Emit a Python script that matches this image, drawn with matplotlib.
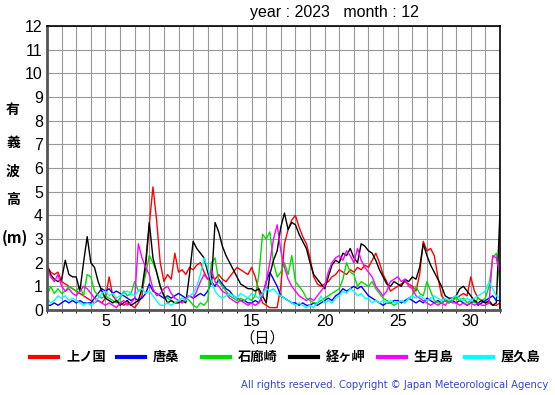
import numpy as np
import matplotlib
matplotlib.use("Agg")
import matplotlib.pyplot as plt
from matplotlib.lines import Line2D

# significant wave height (m), every 6 hours, Dec 1 00h .. Dec 32 00h
days = np.arange(1, 32.01, 0.25)

kaminokuni = [1.9, 1.6, 1.5, 1.6, 1.2, 1.1, 1.0, 0.9, 0.8, 0.7, 0.6, 0.5,
              0.4, 0.3, 0.4, 0.3, 0.5, 1.4, 0.6, 0.4, 0.3, 0.2, 0.3, 0.2,
              0.1, 0.3, 0.6, 1.8, 3.6, 5.2, 3.8, 2.0, 1.2, 1.5, 1.3, 2.4,
              1.6, 1.7, 1.5, 1.8, 1.7, 1.9, 2.0, 1.6, 1.3, 1.4, 1.3, 1.5,
              1.3, 1.2, 1.4, 1.6, 1.8, 1.7, 1.6, 1.5, 1.8, 1.4, 0.8, 0.3,
              0.2, 0.1, 0.1, 0.1, 1.0, 2.8, 3.4, 3.8, 4.0, 3.5, 3.1, 2.8,
              2.2, 1.4, 1.1, 1.0, 1.1, 1.2, 1.4, 1.5, 1.7, 1.6, 1.5, 1.7,
              1.6, 1.8, 1.7, 1.9, 1.8, 2.1, 2.4, 2.0, 1.5, 1.2, 0.8, 0.9,
              1.0, 1.1, 1.2, 1.1, 1.0, 0.8, 1.5, 2.9, 2.5, 2.6, 2.3, 1.4,
              0.6, 0.4, 0.4, 0.5, 0.5, 0.6, 0.7, 0.6, 1.4, 0.8, 0.5, 0.4,
              0.3, 0.3, 0.2, 0.2, 0.3]
karakuwa = [0.2, 0.2, 0.3, 0.2, 0.3, 0.4, 0.3, 0.4, 0.3, 0.4, 0.3, 0.3,
            0.3, 0.5, 0.7, 0.9, 0.8, 0.9, 0.7, 0.8, 0.7, 0.6, 0.5, 0.4,
            0.5, 0.4, 0.5, 0.7, 1.1, 0.8, 0.7, 0.6, 0.5, 0.6, 0.5, 0.6,
            0.7, 0.6, 0.5, 0.6, 0.5, 0.6, 0.7, 0.6, 0.8, 1.2, 1.0, 1.3,
            1.1, 0.9, 0.8, 0.6, 0.5, 0.4, 0.4, 0.3, 0.3, 0.4, 0.3, 0.6,
            1.2, 1.6, 1.3, 1.0, 0.6, 0.5, 0.4, 0.3, 0.3, 0.2, 0.3, 0.2,
            0.2, 0.3, 0.2, 0.3, 0.4, 0.5, 0.4, 0.6, 0.7, 0.9, 0.8, 0.9,
            1.0, 0.9, 1.0, 0.8, 0.6, 0.5, 0.4, 0.3, 0.2, 0.3, 0.3, 0.4,
            0.4, 0.3, 0.4, 0.5, 0.4, 0.3, 0.4, 0.3, 0.5, 0.4, 0.3, 0.4,
            0.3, 0.4, 0.3, 0.4, 0.3, 0.4, 0.3, 0.2, 0.3, 0.4, 0.2, 0.3,
            0.4, 0.5, 0.6, 0.4, 0.4]
irozaki = [0.6, 1.0, 0.7, 0.9, 0.7, 0.8, 1.0, 0.9, 0.8, 1.0, 0.6, 1.5,
           1.4, 0.8, 0.6, 0.5, 0.6, 0.5, 0.4, 0.3, 0.5, 0.8, 0.6, 0.7,
           1.2, 0.8, 0.9, 1.5, 2.3, 2.0, 1.6, 1.0, 0.6, 0.5, 0.4, 0.3,
           0.4, 0.3, 0.5, 0.4, 0.2, 0.1, 0.3, 0.2, 0.4, 2.0, 2.2, 1.2,
           1.0, 0.8, 0.6, 0.5, 0.4, 0.5, 0.4, 0.5, 0.4, 0.6, 1.5, 3.2,
           3.0, 3.3, 2.0, 1.4, 1.6, 2.0, 1.5, 2.3, 1.2, 1.0, 0.8, 0.5,
           0.4, 0.3, 0.3, 0.4, 0.5, 0.6, 0.7, 0.8, 0.9, 1.3, 2.0, 1.6,
           1.5, 1.0, 1.2, 1.1, 1.0, 1.2, 0.9, 0.7, 0.5, 0.4, 0.3, 0.2,
           0.3, 0.4, 0.3, 0.5, 0.6, 1.0, 0.7, 0.6, 1.2, 0.8, 0.4, 0.3,
           0.3, 0.4, 0.3, 0.4, 0.5, 0.4, 0.5, 0.3, 0.4, 0.3, 0.5, 0.4,
           0.5, 1.0, 2.2, 2.4, 1.0]
kyogamisaki = [1.9, 1.5, 1.3, 1.2, 1.3, 2.1, 1.5, 1.4, 1.4, 0.8, 2.0, 3.1,
               2.0, 1.8, 1.2, 0.8, 0.5, 0.4, 0.3, 0.4, 0.2, 0.3, 0.4, 0.2,
               0.3, 0.4, 0.9, 2.0, 3.7, 2.2, 1.6, 1.0, 0.6, 0.3, 0.4, 0.3,
               0.3, 0.4, 0.3, 1.5, 2.9, 2.6, 2.4, 2.2, 1.6, 1.1, 3.7, 3.3,
               2.7, 2.3, 2.0, 1.7, 1.4, 1.1, 1.0, 0.9, 0.9, 0.8, 0.9, 0.6,
               0.3, 1.5, 2.1, 2.5, 3.5, 4.1, 3.4, 3.7, 3.6, 3.2, 2.9, 2.6,
               2.0, 1.5, 1.3, 1.1, 0.9, 1.4, 1.9, 2.1, 2.0, 2.4, 2.3, 2.6,
               2.2, 2.0, 2.8, 2.7, 2.5, 2.4, 2.1, 1.7, 1.4, 1.1, 1.0, 1.2,
               1.1, 1.0, 1.3, 1.2, 1.4, 1.3, 1.8, 2.8, 2.3, 1.9, 1.6, 1.3,
               1.0, 0.6, 0.5, 0.5, 0.6, 0.9, 1.0, 0.8, 0.6, 0.4, 0.3, 0.4,
               0.3, 0.4, 0.2, 0.3, 4.2]
ikitsuki = [1.8, 1.4, 1.2, 1.5, 1.0, 0.8, 0.9, 0.7, 0.6, 0.8, 1.0, 0.9,
            0.7, 0.5, 0.4, 0.3, 0.2, 0.3, 0.2, 0.1, 0.3, 0.4, 0.2, 0.3,
            0.5, 2.8, 2.2, 1.8, 1.5, 0.9, 0.6, 0.7, 0.9, 1.0, 0.7, 0.5,
            0.4, 0.3, 0.5, 0.6, 0.5, 0.8, 1.2, 1.5, 1.3, 1.7, 1.2, 1.0,
            0.8, 0.7, 0.5, 0.4, 0.3, 0.4, 0.3, 0.2, 0.3, 0.2, 0.3, 0.6,
            1.2, 2.0, 3.0, 3.6, 2.5, 1.8, 1.3, 1.0, 0.8, 0.6, 0.5, 0.4,
            0.5, 0.4, 0.6, 0.8, 1.0, 1.6, 2.0, 2.2, 2.3, 2.1, 2.5, 2.3,
            2.0, 2.6, 2.1, 1.8, 1.6, 1.4, 1.0, 0.8, 0.6, 0.8, 1.2, 1.3,
            1.4, 1.2, 1.3, 1.0, 0.9, 0.6, 0.5, 0.4, 0.3, 0.2, 0.3, 0.2,
            0.3, 0.2, 0.4, 0.3, 0.3, 0.2, 0.3, 0.2, 0.3, 0.2, 0.3, 0.2,
            0.2, 0.3, 2.3, 2.2, 1.5]
yakushima = [0.5, 0.3, 0.4, 0.6, 0.5, 0.6, 0.4, 0.5, 0.4, 0.3, 0.2, 0.3,
             0.2, 0.3, 0.5, 0.7, 0.8, 0.6, 0.7, 0.5, 0.6, 0.7, 0.8, 0.7,
             0.6, 0.8, 0.9, 0.7, 0.8, 0.6, 0.4, 0.2, 0.2, 0.3, 0.2, 0.3,
             0.4, 0.5, 0.4, 0.6, 0.7, 1.0, 1.5, 2.2, 1.8, 1.2, 0.8, 0.6,
             0.5, 0.6, 0.7, 0.6, 0.5, 0.7, 0.6, 0.5, 0.7, 0.6, 0.5, 0.7,
             0.9, 0.8, 0.9, 0.7, 0.6, 0.5, 0.4, 0.3, 0.2, 0.3, 0.2, 0.1,
             0.2, 0.1, 0.3, 0.6, 0.3, 0.4, 0.3, 0.5, 0.6, 0.8, 0.7, 0.9,
             0.8, 0.6, 0.7, 0.5, 0.5, 0.3, 0.4, 0.3, 0.4, 0.3, 0.4, 0.3,
             0.3, 0.4, 0.3, 0.5, 0.6, 0.5, 0.6, 0.5, 0.4, 0.5, 0.6, 0.5,
             0.4, 0.5, 0.4, 0.5, 0.6, 0.5, 0.4, 0.5, 0.4, 0.5, 0.6, 0.7,
             0.8, 1.2, 0.9, 0.6, 0.5]

stations = ["上ノ国", "唐桑", "石廊崎", "経ヶ岬", "生月島", "屋久島"]
series = [kaminokuni, karakuwa, irozaki, kyogamisaki, ikitsuki, yakushima]
colors = ["#ff0000", "#0000ff", "#00dd00", "#000000", "#ff00ff", "#00ffff"]

xticks = [5, 10, 15, 20, 25, 30]

jp = ["Noto Sans CJK JP", "DejaVu Sans"]
num = ["Liberation Sans", "DejaVu Sans"]

fig = plt.figure(figsize=(5.55, 3.95), dpi=100)
ax = fig.add_axes([47 / 555, 1 - 310 / 395, 453 / 555, 284 / 395])

for vals, c in zip(series, colors):
    ax.plot(days, vals, color=c, lw=1.0)

ax.set_xlim(1, 32)
ax.set_ylim(0, 12)
ax.set_xticks(np.arange(1, 33), minor=True)
ax.set_xticks(xticks)
ax.set_yticks(np.arange(0, 13))
ax.grid(True, which="both", color="#999999", lw=0.8)
ax.set_axisbelow(True)
ax.tick_params(length=0, labelsize=11.5, pad=3)
for lab in ax.get_xticklabels() + ax.get_yticklabels():
    lab.set_family(num)
for s in ["left", "bottom"]:
    ax.spines[s].set_linewidth(2)
    ax.spines[s].set_color("#555555")
for s in ["top", "right"]:
    ax.spines[s].set_linewidth(1.2)

fig.text(250 / 555, 1 - 13 / 395, "year : 2023   month : 12", family=num,
         fontsize=11.5, ha="left", va="center")

for ch, y in zip(["有", "義", "波", "高"], [110, 143, 172, 200]):
    fig.text(13 / 555, 1 - y / 395, ch, family=jp, fontsize=10,
             fontweight="bold", ha="center", va="center")
fig.text(2 / 555, 1 - 238 / 395, "(m)", family=jp, fontsize=11,
         fontweight="bold", ha="left", va="center")
fig.text(262 / 555, 1 - 338 / 395, "（日）", family=jp, fontsize=11,
         ha="center", va="center")

# legend row
leg_x = [30, 117, 202, 290, 378, 465]
for x0, name, c in zip(leg_x, stations, colors):
    fig.add_artist(Line2D([x0 / 555, (x0 + 28) / 555],
                          [1 - 357 / 395, 1 - 357 / 395],
                          color=c, lw=3, transform=fig.transFigure))
    fig.text((x0 + 36) / 555, 1 - 357 / 395, name, family=jp,
             fontsize=9.5, fontweight="bold", ha="left", va="center")

fig.text(548 / 555, 1 - 385 / 395,
         "All rights reserved. Copyright © Japan Meteorological Agency",
         family=["DejaVu Sans"], fontsize=7.2, color="#3344dd",
         ha="right", va="center")

fig.savefig("out.png", dpi=100)
